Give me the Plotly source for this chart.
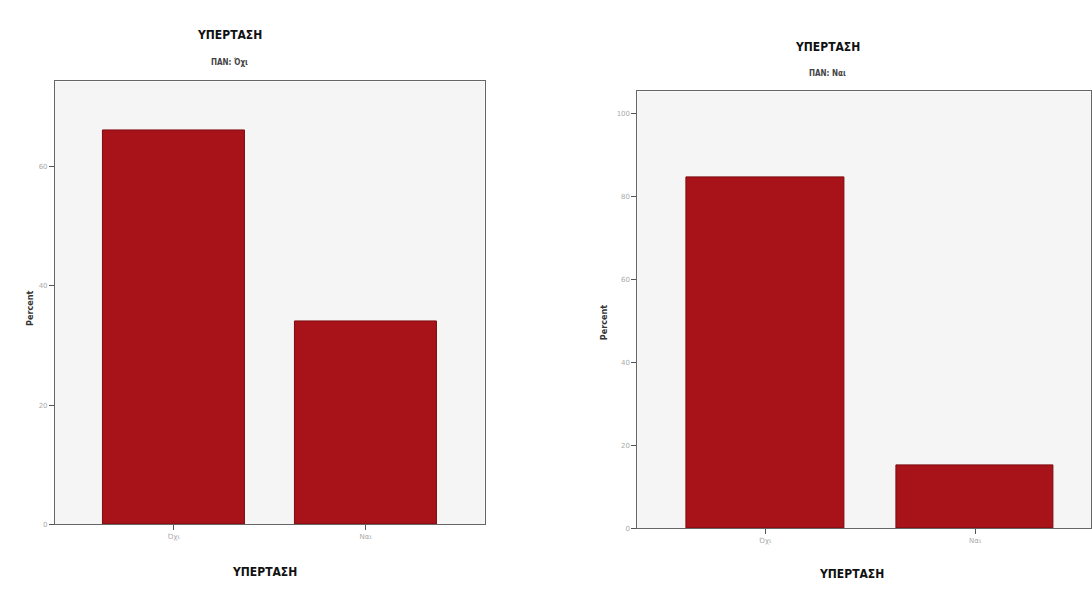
import plotly.graph_objects as go

categories = ["Όχι", "Ναι"]
left_values = [66.0, 34.0]
right_values = [84.7, 15.3]
left_ticks = [0, 20, 40, 60]
right_ticks = [0, 20, 40, 60, 80, 100]
title_text = "ΥΠΕΡΤΑΣΗ"
left_sub = "ΠΑΝ: Όχι"
right_sub = "ΠΑΝ: Ναι"
x_title = "ΥΠΕΡΤΑΣΗ"
y_title = "Percent"

W, H = 1092, 592
bar_color = "#a8131a"

fig = go.Figure()
fig.add_trace(go.Bar(x=categories, y=left_values, width=0.74, xaxis="x", yaxis="y",
                     marker=dict(color=bar_color, line=dict(color="#7d0a0f", width=1)),
                     showlegend=False, hoverinfo="skip"))
fig.add_trace(go.Bar(x=categories, y=right_values, width=0.75, xaxis="x2", yaxis="y2",
                     marker=dict(color=bar_color, line=dict(color="#7d0a0f", width=1)),
                     showlegend=False, hoverinfo="skip"))

def px(x):
    return x / W

def py(y):
    return 1 - y / H

axis_common = dict(showgrid=False, zeroline=False, showline=True, linecolor="#666666",
                   linewidth=1, ticks="outside", ticklen=5, tickcolor="#555555",
                   tickfont=dict(size=7, color="#aaaaaa", family="DejaVu Sans"))

fig.update_layout(
    width=W, height=H,
    margin=dict(l=0, r=0, t=0, b=0),
    paper_bgcolor="white",
    plot_bgcolor="#f5f5f5",
    bargap=0,
    xaxis=dict(domain=[px(55), px(485)], range=[-0.62, 1.62], anchor="y", mirror=True,
               **axis_common),
    yaxis=dict(domain=[py(528), py(82)], range=[0, 74.3], anchor="x", tickvals=left_ticks,
               mirror=True, **axis_common),
    xaxis2=dict(domain=[px(638), 1.0], range=[-0.61, 1.552], anchor="y2", mirror=True,
                **axis_common),
    yaxis2=dict(domain=[py(532), py(92)], range=[0, 105.3], anchor="x2", tickvals=right_ticks,
                mirror=True, **axis_common),
)

ann = []
def text(x, y, t, size, bold=False, angle=0, color="#111111"):
    ann.append(dict(x=px(x), y=py(y), xref="paper", yref="paper", text=(f"<b>{t}</b>" if bold else t),
                    showarrow=False, xanchor="center", yanchor="middle", textangle=angle,
                    font=dict(size=size, color=color, family="Liberation Sans Narrow, DejaVu Sans Condensed, Arial")))

text(230, 35, title_text, 12, bold=True)
text(230, 62, left_sub, 8, bold=True, color="#444444")
text(828, 47, title_text, 12, bold=True)
text(828, 74, right_sub, 8, bold=True, color="#444444")
text(265, 576, x_title, 12, bold=True)
text(852, 578, x_title, 12, bold=True)
text(30, 310, y_title, 9, bold=True, angle=-90, color="#333333")
text(604, 325, y_title, 9, bold=True, angle=-90, color="#333333")
fig.update_layout(annotations=ann)

fig.write_html("out.html", config={"displayModeBar": False},
               post_script="document.body.style.margin='0px';")
